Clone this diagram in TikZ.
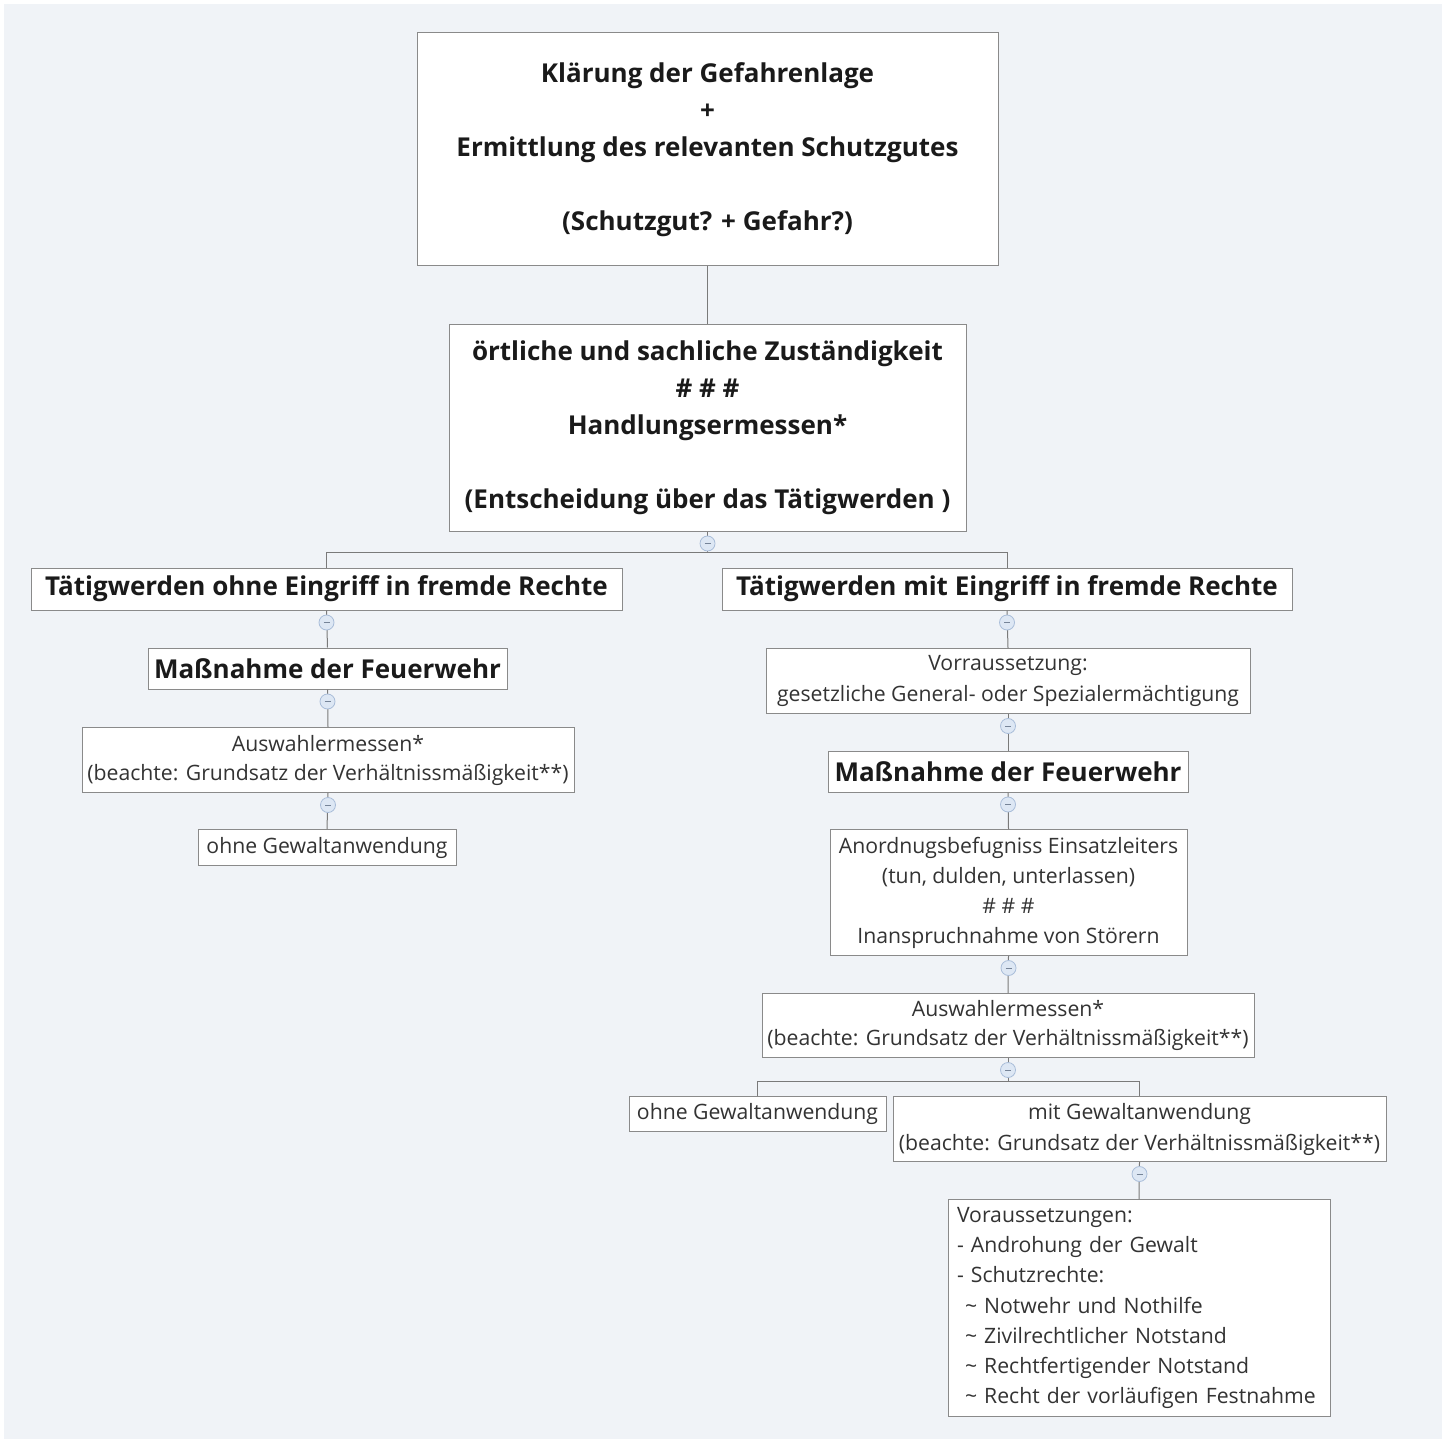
\documentclass[tikz,border=0pt]{standalone}
\usepackage{fontspec}
\setmainfont{Open Sans}
\definecolor{bgc}{HTML}{F0F3F7}
\definecolor{bdc}{HTML}{8A8A8A}
\definecolor{lnc}{HTML}{7A7A7A}
\definecolor{cfill}{HTML}{DDE7F4}
\definecolor{cdraw}{HTML}{A9BDD9}
\definecolor{txt}{HTML}{1A1A1A}
\definecolor{txtn}{HTML}{333333}
\tikzset{
  box/.style={draw=bdc, line width=1pt, fill=white, inner sep=0pt, align=center},
  bigbox/.style={box, text=txt, font=\bfseries\fontsize{26}{37}\selectfont},
  boldbox/.style={box, text=txt, font=\bfseries\fontsize{26}{30}\selectfont},
  normbox/.style={box, text=txtn, font=\fontsize{21.2}{30}\selectfont},
  conn/.style={draw=lnc, line width=1pt},
  tog/.style={circle, draw=cdraw, fill=cfill, line width=0.8pt, minimum size=15pt, inner sep=0pt,
    path picture={\draw[cdraw!70!black, line width=0.7pt] ([xshift=-3pt]path picture bounding box.center) -- ([xshift=3pt]path picture bounding box.center);}}
}
\begin{document}
\begin{tikzpicture}[x=1pt,y=-1pt]
\useasboundingbox (0,0) rectangle (1442,1439);
\fill[white] (0,0) rectangle (1442,1439);
\fill[bgc] (4,4) rectangle (1442,1439);

% nodes
\node[bigbox, minimum width=581pt, minimum height=233pt] (top) at (707.5,149.5)
 {Klärung der Gefahrenlage\\+\\Ermittlung des relevanten Schutzgutes\\[37pt](Schutzgut? + Gefahr?)};
\node[bigbox, minimum width=517pt, minimum height=207pt] (zust) at (707.5,427.5)
 {örtliche und sachliche Zuständigkeit\\\# \# \#\\Handlungsermessen*\\[37pt](Entscheidung über das Tätigwerden )};

\node[boldbox, minimum width=591pt, minimum height=42pt] (ohneE) at (326.5,589)
 {Tätigwerden ohne Eingriff in fremde Rechte};
\node[boldbox, minimum width=570pt, minimum height=42pt] (mitE) at (1007,589)
 {Tätigwerden mit Eingriff in fremde Rechte};

\node[boldbox, minimum width=359pt, minimum height=41pt] (massL) at (327.5,668.5)
 {Maßnahme der Feuerwehr};
\node[normbox, minimum width=492pt, minimum height=65pt, font=\fontsize{21.2}{29}\selectfont] (auswL) at (328,760)
 {Auswahlermessen*\\(beachte: Grundsatz der Verhältnissmäßigkeit**)};
\node[normbox, minimum width=258pt, minimum height=36pt] (ohneGL) at (327,847.5)
 {ohne Gewaltanwendung};

\node[normbox, minimum width=484pt, minimum height=65pt, font=\fontsize{21.2}{31}\selectfont] (vorr) at (1008,681)
 {Vorraussetzung:\\gesetzliche General- oder Spezialermächtigung};
\node[boldbox, minimum width=360pt, minimum height=41pt] (massR) at (1008,771.5)
 {Maßnahme der Feuerwehr};
\node[normbox, minimum width=357pt, minimum height=126pt] (anord) at (1008.5,892.5)
 {Anordnugsbefugniss Einsatzleiters\\(tun, dulden, unterlassen)\\\# \# \#\\Inanspruchnahme von Störern};
\node[normbox, minimum width=492pt, minimum height=64pt, font=\fontsize{21.2}{29}\selectfont] (auswR) at (1008,1025.5)
 {Auswahlermessen*\\(beachte: Grundsatz der Verhältnissmäßigkeit**)};
\node[normbox, minimum width=257pt, minimum height=35pt] (ohneGR) at (757.5,1114)
 {ohne Gewaltanwendung};
\node[normbox, minimum width=493pt, minimum height=65pt, font=\fontsize{21.2}{31}\selectfont] (mitG) at (1139.5,1129)
 {mit Gewaltanwendung\\(beachte: Grundsatz der Verhältnissmäßigkeit**)};
\node[normbox, align=left, text width=364pt, inner xsep=9pt, minimum height=217pt, font=\fontsize{21.2}{30.3}\selectfont] (voraus) at (1139,1308)
 {Voraussetzungen:\\- Androhung der Gewalt\\- Schutzrechte:\\\hspace*{8pt}\textasciitilde{} Notwehr und Nothilfe\\\hspace*{8pt}\textasciitilde{} Zivilrechtlicher Notstand\\\hspace*{8pt}\textasciitilde{} Rechtfertigender Notstand\\\hspace*{8pt}\textasciitilde{} Recht der vorläufigen Festnahme};

% connectors
\draw[conn] (top.south) -- (zust.north);
\draw[conn] (zust.south) -- ++(0,21) coordinate (b1);
\draw[conn] (ohneE.north) |- (b1) -| (mitE.north);
\draw[conn] (ohneE.south) -- (massL.north);
\draw[conn] (massL.south) -- (auswL.north);
\draw[conn] (auswL.south) -- (ohneGL.north);
\draw[conn] (mitE.south) -- (vorr.north);
\draw[conn] (vorr.south) -- (massR.north);
\draw[conn] (massR.south) -- (anord.north);
\draw[conn] (anord.south) -- (auswR.north);
\draw[conn] (auswR.south) -- ++(0,23) coordinate (b2);
\draw[conn] (ohneGR.north) |- (b2) -| (mitG.north);
\draw[conn] (mitG.south) -- (voraus.north);

% toggles
\node[tog] (t1) at ([yshift=-12pt]zust.south) {};
\node[tog] (t2) at ([yshift=-12pt]ohneE.south) {};
\node[tog] (t3) at ([yshift=-12pt]massL.south) {};
\node[tog] (t4) at ([yshift=-12pt]auswL.south) {};
\node[tog] (t5) at ([yshift=-12pt]mitE.south) {};
\node[tog] (t6) at ([yshift=-12pt]vorr.south) {};
\node[tog] (t7) at ([yshift=-12pt]massR.south) {};
\node[tog] (t8) at ([yshift=-12pt]anord.south) {};
\node[tog] (t9) at ([yshift=-12pt]auswR.south) {};
\node[tog] (t10) at ([yshift=-12pt]mitG.south) {};
\end{tikzpicture}
\end{document}
